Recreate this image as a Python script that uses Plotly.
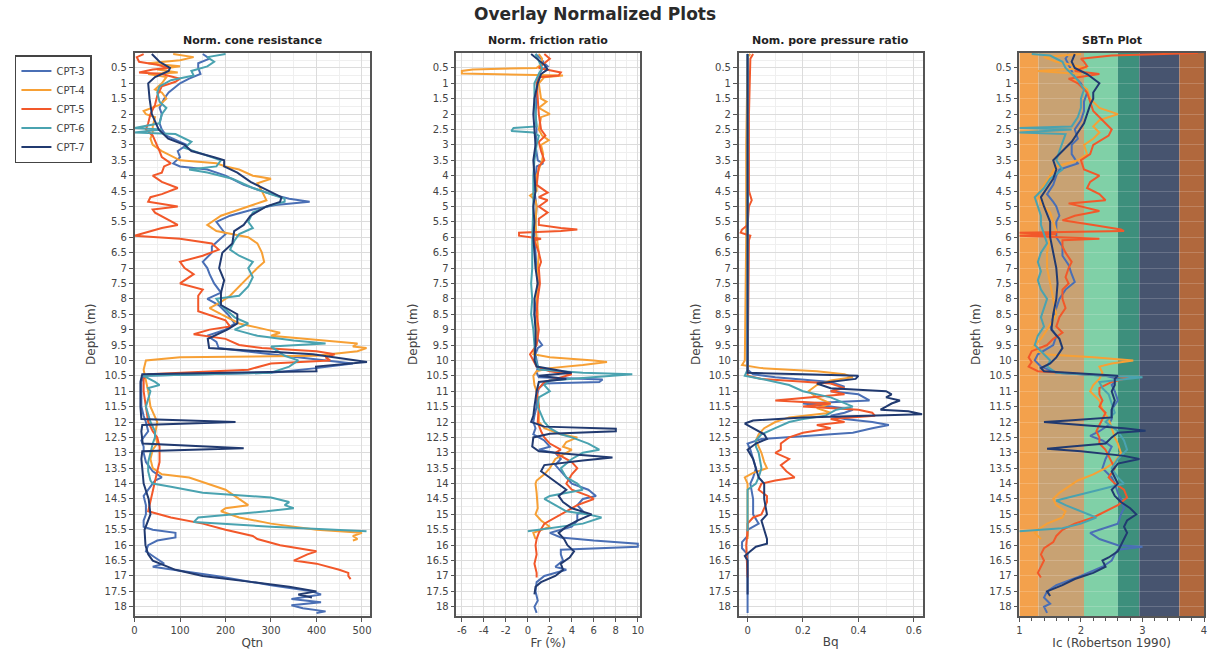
import plotly.graph_objects as go

# ---------------- DATA ----------------
SERIES = ["CPT-3", "CPT-4", "CPT-5", "CPT-6", "CPT-7"]
COLORS = ["#4a6fb5", "#f7a035", "#f2582a", "#4aa3b0", "#213a70"]

DEPTH_TICKS = [i * 0.5 for i in range(1, 37)]
DEPTH_TICK_TEXT = [("%g" % v) for v in DEPTH_TICKS]

QTN_TICKS = [0, 100, 200, 300, 400, 500]
FR_TICKS = [-6, -4, -2, 0, 2, 4, 6, 8, 10]
BQ_TICKS = [0, 0.2, 0.4, 0.6]
IC_TICKS = [1, 2, 3, 4]

# Panel 1: normalized cone resistance Qtn  (depth, value)
QTN_CPT3 = [(0.05,150),(0.2,165),(0.35,140),(0.5,140),(0.7,145),(0.85,120),(1.0,100),(1.3,75),(1.5,65),(1.8,55),(2.0,60),(2.3,55),(2.5,60),(2.7,70),(2.9,100),(3.0,115),(3.2,95),(3.4,100),(3.6,85),(3.7,100),(3.8,160),(4.0,200),(4.3,240),(4.6,300),(4.75,340),(4.85,385),(4.95,310),(5.1,260),(5.3,210),(5.5,180),(5.7,190),(5.9,200),(6.1,185),(6.3,170),(6.5,170),(6.8,150),(7.0,160),(7.2,165),(7.5,175),(7.8,190),(8.0,160),(8.2,185),(8.5,205),(8.8,220),(9.0,200),(9.2,160),(9.4,180),(9.6,185),(9.8,300),(10.0,420),(10.1,480),(10.25,400),(10.4,300),(10.5,20),(10.7,15),(11.0,15),(11.5,15),(11.8,20),(12.0,25),(12.3,30),(12.5,20),(12.6,15),(12.8,20),(13.0,20),(13.3,25),(13.6,40),(13.8,60),(13.9,45),(14.1,35),(14.4,20),(14.7,25),(15.0,25),(15.2,20),(15.4,20),(15.5,40),(15.6,90),(15.75,90),(15.85,50),(16.0,30),(16.2,25),(16.4,45),(16.6,65),(16.7,40),(17.0,180),(17.3,300),(17.5,390),(17.6,410),(17.75,345),(17.85,410),(17.95,345),(18.05,370),(18.15,420),(18.2,400)]
QTN_CPT4 = [(0.05,85),(0.15,130),(0.25,100),(0.35,30),(0.45,100),(0.55,50),(0.65,95),(0.7,30),(0.8,70),(1.0,60),(1.2,45),(1.3,60),(1.5,70),(1.7,55),(1.9,20),(2.0,25),(2.1,45),(2.4,40),(2.6,40),(2.8,35),(3.0,40),(3.2,60),(3.5,100),(3.6,180),(3.7,200),(3.8,230),(4.0,260),(4.1,300),(4.25,270),(4.5,280),(4.8,290),(5.0,250),(5.3,190),(5.6,160),(5.8,180),(6.0,250),(6.2,270),(6.5,280),(6.8,285),(7.0,270),(7.3,250),(7.6,230),(7.9,210),(8.1,190),(8.3,165),(8.5,190),(8.8,230),(9.0,290),(9.1,320),(9.2,300),(9.35,420),(9.45,490),(9.55,480),(9.6,510),(9.7,490),(9.85,400),(9.9,100),(10.0,25),(10.3,20),(10.6,25),(11.0,30),(11.5,35),(11.8,45),(12.0,50),(12.4,45),(12.7,50),(12.9,40),(13.2,35),(13.5,40),(13.7,60),(13.8,120),(13.9,140),(14.0,160),(14.2,200),(14.4,220),(14.5,230),(14.6,240),(14.7,250),(14.8,200),(14.9,190),(15.1,230),(15.3,300),(15.5,400),(15.6,500),(15.7,480),(15.8,490),(15.85,480)]
QTN_CPT5 = [(0.05,20),(0.15,5),(0.3,10),(0.4,50),(0.5,75),(0.55,40),(0.65,10),(0.7,60),(0.85,100),(0.95,90),(1.1,60),(1.4,50),(1.7,45),(2.0,35),(2.3,30),(2.5,25),(2.7,40),(3.0,50),(3.2,55),(3.4,60),(3.6,80),(3.7,65),(3.9,60),(4.0,40),(4.2,60),(4.4,95),(4.6,60),(4.7,35),(4.85,30),(5.0,95),(5.1,40),(5.2,45),(5.4,70),(5.6,95),(5.7,60),(5.85,20),(5.95,0),(6.05,100),(6.2,170),(6.4,185),(6.6,150),(6.8,100),(7.0,110),(7.2,130),(7.4,110),(7.5,100),(7.7,150),(7.9,140),(8.1,140),(8.4,140),(8.7,200),(8.9,210),(9.0,165),(9.15,130),(9.3,200),(9.5,230),(9.6,280),(9.7,400),(9.8,440),(9.9,420),(10.0,430),(10.1,300),(10.3,250),(10.45,30),(10.6,20),(11.0,20),(11.5,25),(12.0,30),(12.3,40),(12.5,50),(12.8,55),(13.0,55),(13.3,55),(13.6,50),(13.9,45),(14.2,40),(14.5,35),(14.9,30),(15.1,80),(15.3,150),(15.5,200),(15.7,260),(15.8,270),(16.0,320),(16.2,400),(16.3,380),(16.5,350),(16.6,400),(16.8,450),(16.9,470),(17.0,470),(17.1,475)]
QTN_CPT6 = [(0.05,200),(0.15,160),(0.3,175),(0.45,160),(0.6,125),(0.75,130),(0.9,80),(1.1,55),(1.3,50),(1.6,55),(1.8,70),(2.0,60),(2.3,55),(2.45,0),(2.5,60),(2.6,0),(2.65,90),(2.8,110),(2.9,125),(3.1,110),(3.3,150),(3.5,190),(3.7,180),(3.8,120),(3.9,160),(4.1,215),(4.4,260),(4.6,300),(4.75,330),(4.85,330),(5.0,290),(5.2,260),(5.5,250),(5.7,260),(5.9,230),(6.1,220),(6.4,210),(6.6,230),(6.8,260),(7.0,250),(7.3,260),(7.6,250),(7.9,230),(8.0,180),(8.2,190),(8.4,205),(8.6,220),(8.8,250),(9.0,220),(9.2,270),(9.35,350),(9.45,420),(9.55,300),(9.65,310),(9.85,330),(10.0,360),(10.2,340),(10.4,300),(10.5,20),(10.7,45),(10.8,55),(10.9,30),(11.0,35),(11.5,25),(12.0,35),(12.3,45),(12.5,45),(12.7,40),(13.0,35),(13.3,30),(13.6,30),(13.9,35),(14.0,40),(14.1,80),(14.3,150),(14.45,300),(14.6,340),(14.7,330),(14.8,350),(14.9,290),(15.1,140),(15.25,130),(15.4,300),(15.55,510)]
QTN_CPT7 = [(0.05,38),(0.3,55),(0.5,78),(0.6,75),(0.8,45),(1.0,30),(1.5,33),(2.0,38),(2.5,53),(2.8,74),(3.0,110),(3.2,125),(3.4,175),(3.5,197),(3.7,197),(3.9,226),(4.2,255),(4.5,298),(4.7,323),(4.85,320),(5.0,290),(5.3,255),(5.6,240),(5.8,219),(6.2,215),(6.5,193),(7.0,186),(7.4,197),(7.8,190),(8.2,190),(8.5,226),(8.8,226),(9.0,204),(9.3,161),(9.6,164),(9.8,392),(10.05,511),(10.2,399),(10.35,400),(10.45,17),(10.7,13),(11.0,13),(11.5,13),(11.9,15),(12.0,222),(12.1,17),(12.3,15),(12.7,18),(12.85,240),(12.95,17),(13.2,15),(13.5,17),(14.0,20),(14.5,31),(15.0,35),(15.5,22),(16.0,24),(16.3,30),(16.5,40),(16.8,90),(17.0,150),(17.2,260),(17.35,340),(17.5,400),(17.6,360),(17.7,390)]

# Panel 2: normalized friction ratio Fr (%)
FR_CPT3 = [(0.05,0.7),(0.2,1.2),(0.35,1.5),(0.45,1.8),(0.55,1.3),(0.7,1.0),(1.0,0.9),(1.5,0.8),(2.0,0.7),(2.5,0.8),(3.0,0.7),(3.5,0.9),(3.6,1.4),(3.7,0.8),(4.0,0.7),(4.5,0.6),(5.0,0.8),(5.5,0.7),(6.0,0.6),(6.5,0.7),(7.0,0.8),(7.5,0.9),(8.0,0.8),(8.5,0.6),(9.0,0.8),(9.3,0.9),(9.5,1.3),(9.6,0.9),(9.8,0.7),(10.0,0.8),(10.2,0.9),(10.4,0.8),(10.55,1.0),(10.62,6.8),(10.7,6.5),(10.75,1.5),(10.9,1.0),(11.2,0.8),(11.5,0.8),(11.8,0.6),(12.0,0.5),(12.2,0.7),(12.4,0.5),(12.5,1.0),(12.6,1.5),(12.8,2.0),(12.9,1.0),(13.0,2.5),(13.2,3.0),(13.4,2.5),(13.6,3.0),(13.8,3.5),(14.0,4.0),(14.2,5.5),(14.4,6.2),(14.5,5.0),(14.7,4.5),(14.9,5.0),(15.0,4.5),(15.2,4.5),(15.4,4.0),(15.5,3.0),(15.6,2.0),(15.75,3.0),(15.85,6.0),(15.95,10.0),(16.05,10.0),(16.15,3.0),(16.3,3.0),(16.5,3.2),(16.7,2.5),(16.8,3.5),(17.0,1.5),(17.2,0.8),(17.5,0.7),(17.8,0.9),(18.0,0.6),(18.2,0.8)]
FR_CPT4 = [(0.05,1.0),(0.2,1.3),(0.4,1.2),(0.5,0.8),(0.55,-5.0),(0.6,-6.0),(0.68,-6.0),(0.72,1.0),(0.75,3.2),(0.8,1.5),(1.0,1.0),(1.5,1.2),(1.6,1.7),(1.8,1.0),(2.0,2.0),(2.1,1.2),(2.5,1.0),(2.7,1.3),(2.85,1.9),(3.0,1.2),(3.3,1.4),(3.5,1.3),(4.0,0.8),(4.5,0.8),(4.65,0.2),(4.8,0.7),(5.0,0.8),(5.5,0.7),(6.0,0.8),(6.5,1.0),(7.0,0.9),(7.5,0.9),(8.0,0.8),(8.5,0.9),(9.0,0.8),(9.5,0.7),(9.8,0.5),(9.9,2.0),(10.0,6.0),(10.05,7.2),(10.15,5.0),(10.25,2.0),(10.35,0.8),(10.5,0.5),(10.8,0.6),(11.0,0.8),(11.5,1.0),(12.0,1.0),(12.2,1.5),(12.4,3.0),(12.5,4.5),(12.65,3.5),(12.8,3.2),(12.9,4.0),(13.0,3.5),(13.2,2.5),(13.5,2.0),(13.7,1.5),(13.9,0.8),(14.0,0.7),(14.3,0.8),(14.6,0.9),(14.8,0.9),(15.0,0.7),(15.2,1.2),(15.4,2.0),(15.6,0.5),(15.8,0.7)]
FR_CPT5 = [(0.05,1.5),(0.2,2.0),(0.35,1.5),(0.5,1.0),(0.65,3.0),(0.75,2.8),(0.8,1.0),(1.0,0.8),(1.5,0.9),(2.0,1.0),(2.5,1.2),(2.7,1.6),(2.9,1.0),(3.2,1.2),(3.5,1.5),(3.7,1.0),(4.0,0.9),(4.3,0.8),(4.55,1.8),(4.7,1.0),(4.8,1.8),(5.0,1.0),(5.2,1.8),(5.4,1.0),(5.6,1.0),(5.7,3.0),(5.75,4.5),(5.8,3.0),(5.85,-0.8),(5.95,-0.8),(6.05,1.2),(6.1,0.6),(6.5,1.0),(6.8,1.2),(7.0,1.0),(7.5,1.1),(8.0,0.9),(8.5,0.8),(9.0,1.0),(9.5,0.8),(9.8,0.2),(10.0,0.5),(10.2,0.8),(10.35,2.0),(10.45,4.0),(10.55,3.0),(10.7,1.5),(11.0,0.8),(11.5,1.0),(12.0,0.9),(12.3,1.2),(12.5,1.5),(12.7,2.0),(12.9,3.0),(13.0,2.5),(13.3,4.0),(13.5,4.5),(13.7,4.0),(14.0,3.5),(14.2,4.0),(14.4,5.5),(14.5,6.0),(14.7,4.5),(14.9,3.5),(15.1,2.5),(15.3,1.5),(15.6,1.0),(15.8,0.8),(16.0,0.7),(16.3,0.8),(16.6,0.6),(16.9,0.8),(17.05,0.8)]
FR_CPT6 = [(0.05,0.7),(0.3,1.0),(0.5,1.3),(0.7,1.0),(1.0,0.6),(1.5,0.6),(2.0,0.7),(2.4,0.8),(2.45,-1.3),(2.55,-1.5),(2.6,0.5),(2.7,1.0),(3.0,0.8),(3.5,0.6),(4.0,0.5),(5.0,0.5),(6.0,0.4),(7.0,0.4),(7.5,0.3),(8.0,0.4),(8.5,0.3),(9.0,0.5),(9.5,0.6),(10.0,0.7),(10.3,1.0),(10.4,5.0),(10.45,9.5),(10.55,6.0),(10.65,2.0),(10.8,1.5),(11.0,2.0),(11.2,1.0),(11.5,0.9),(12.0,1.5),(12.2,2.0),(12.4,3.0),(12.5,4.0),(12.7,5.5),(12.9,6.5),(13.0,5.0),(13.2,4.0),(13.5,3.0),(13.8,3.5),(14.0,4.5),(14.2,5.0),(14.4,2.0),(14.5,1.5),(14.7,2.5),(14.9,3.5),(15.0,5.5),(15.1,6.7),(15.3,5.0),(15.45,2.0),(15.55,0.0)]
FR_CPT7 = [(0.05,0.3),(0.2,0.8),(0.4,1.5),(0.55,1.8),(0.7,1.2),(1.0,0.9),(1.5,0.6),(2.0,0.5),(2.5,0.6),(3.0,0.7),(3.5,0.5),(4.0,0.6),(4.5,0.7),(5.0,0.5),(5.5,0.6),(6.0,0.5),(6.5,0.6),(7.0,0.7),(7.5,0.9),(8.0,0.6),(8.5,0.6),(9.0,0.7),(9.5,0.7),(10.0,0.6),(10.2,0.8),(10.3,2.5),(10.4,4.0),(10.5,1.0),(10.6,3.5),(10.7,1.0),(11.0,0.8),(11.5,0.6),(11.8,0.5),(12.0,0.3),(12.15,1.5),(12.22,8.0),(12.3,8.0),(12.38,2.0),(12.5,0.5),(12.8,0.4),(12.95,1.0),(13.05,4.0),(13.15,7.7),(13.25,5.0),(13.4,1.5),(13.6,1.2),(13.8,2.0),(14.0,2.8),(14.2,3.5),(14.4,2.8),(14.6,3.2),(14.8,4.0),(15.0,5.8),(15.2,4.5),(15.4,3.5),(15.6,2.8),(15.8,3.3),(16.0,3.6),(16.2,4.2),(16.4,3.8),(16.6,3.0),(16.8,3.2),(17.0,2.5),(17.2,1.2),(17.35,0.7),(17.6,0.6)]

# Panel 3: normalized pore pressure ratio Bq
BQ_CPT3 = [(0.05,0.0),(5.0,0.0),(10.3,0.0),(10.45,0.02),(10.55,0.1),(10.7,0.3),(10.85,0.35),(11.0,0.3),(11.1,0.4),(11.3,0.44),(11.4,0.2),(11.5,0.3),(11.6,0.38),(11.7,0.35),(11.8,0.3),(11.9,0.35),(12.0,0.45),(12.1,0.51),(12.2,0.45),(12.35,0.38),(12.45,0.2),(12.55,0.05),(12.7,0.0),(12.9,0.01),(13.2,0.02),(13.5,0.03),(13.8,0.02),(14.0,0.01),(14.5,0.02),(15.0,0.02),(15.3,0.04),(15.5,0.0),(15.7,0.0),(15.9,-0.02),(16.1,-0.02),(16.3,0.0),(16.5,0.0),(17.0,0.0),(17.5,0.0),(18.2,0.0)]
BQ_CPT4 = [(0.05,0.01),(0.15,0.0),(3.0,-0.005),(6.0,-0.005),(10.0,-0.01),(10.15,-0.02),(10.25,0.05),(10.35,0.25),(10.45,0.35),(10.55,0.38),(10.65,0.3),(10.8,0.25),(11.0,0.22),(11.2,0.25),(11.4,0.3),(11.55,0.25),(11.7,0.3),(11.85,0.15),(12.0,0.1),(12.2,0.06),(12.4,0.04),(12.6,0.03),(12.8,0.04),(13.0,0.05),(13.3,0.06),(13.5,0.07),(13.65,0.02),(13.8,-0.01),(14.0,0.0),(14.5,0.0),(15.0,0.0),(15.3,0.0),(15.5,0.0),(15.8,0.0)]
BQ_CPT5 = [(0.05,0.02),(0.2,0.01),(2.0,0.005),(4.5,0.005),(4.8,0.015),(5.0,0.005),(5.6,0.0),(5.75,-0.02),(5.85,-0.025),(5.95,0.01),(6.1,0.005),(10.0,0.0),(10.5,0.0),(10.6,0.05),(10.75,0.3),(10.9,0.35),(11.0,0.3),(11.1,0.35),(11.3,0.1),(11.4,0.3),(11.5,0.2),(11.6,0.4),(11.7,0.45),(11.8,0.46),(11.9,0.3),(12.0,0.35),(12.1,0.25),(12.2,0.3),(12.35,0.2),(12.5,0.15),(12.7,0.12),(12.9,0.12),(13.0,0.1),(13.2,0.15),(13.4,0.12),(13.6,0.14),(13.8,0.17),(13.9,0.1),(14.0,0.05),(14.2,0.04),(14.4,0.07),(14.6,0.07),(14.8,0.06),(15.0,0.05),(15.1,0.02),(15.3,0.0),(15.5,0.0),(16.0,-0.005),(17.05,0.0)]
BQ_CPT6 = [(0.05,0.0),(5.0,0.0),(10.3,0.0),(10.5,-0.01),(10.6,0.05),(10.8,0.15),(11.0,0.2),(11.2,0.3),(11.4,0.35),(11.5,0.38),(11.6,0.32),(11.8,0.28),(11.9,0.2),(12.0,0.15),(12.2,0.1),(12.4,0.05),(12.6,0.03),(12.8,0.03),(13.0,0.04),(13.5,0.05),(13.8,0.04),(14.0,0.03),(14.2,0.0),(14.5,0.0),(15.0,0.0),(15.3,0.0),(15.55,0.0)]
BQ_CPT7 = [(0.05,0.0),(5.0,0.0),(10.3,0.0),(10.4,0.0),(10.45,0.2),(10.5,0.4),(10.6,0.39),(10.75,0.25),(10.9,0.3),(11.0,0.5),(11.1,0.52),(11.2,0.5),(11.3,0.55),(11.4,0.52),(11.5,0.5),(11.6,0.48),(11.65,0.58),(11.75,0.63),(11.85,0.2),(11.95,0.02),(12.05,-0.01),(12.2,0.02),(12.4,0.06),(12.55,0.07),(12.7,0.03),(12.9,0.0),(13.2,0.02),(13.5,0.03),(13.8,0.04),(14.0,0.06),(14.5,0.06),(15.0,0.07),(15.2,0.05),(15.5,0.06),(15.8,0.07),(15.95,0.07),(16.05,0.03),(16.2,0.01),(16.35,-0.01),(16.5,0.0),(17.0,0.0),(17.6,0.0)]

# Panel 4: soil behaviour type index Ic
IC_CPT3 = [(0.05,1.8),(0.2,1.75),(0.4,1.8),(0.6,1.85),(0.8,1.9),(1.0,2.0),(1.3,2.1),(1.6,2.05),(1.9,2.05),(2.2,2.0),(2.5,1.9),(2.8,1.95),(3.0,1.85),(3.3,1.85),(3.6,1.95),(3.8,1.65),(4.0,1.6),(4.3,1.55),(4.6,1.45),(4.85,1.55),(5.0,1.6),(5.3,1.65),(5.5,1.6),(6.0,1.6),(6.3,1.7),(6.6,1.7),(6.9,1.8),(7.2,1.85),(7.45,1.9),(7.7,1.75),(8.0,1.65),(8.3,1.6),(8.6,1.55),(8.9,1.5),(9.2,1.6),(9.5,1.55),(9.8,1.3),(10.0,1.25),(10.2,1.35),(10.4,1.6),(10.5,2.4),(10.6,2.6),(10.8,2.5),(11.0,2.55),(11.3,2.6),(11.6,2.5),(11.9,2.5),(12.1,2.45),(12.3,2.3),(12.45,2.15),(12.6,2.35),(12.8,2.5),(13.0,2.45),(13.2,2.4),(13.5,2.35),(13.8,2.5),(14.0,2.55),(14.3,2.6),(14.5,2.65),(14.8,2.7),(15.0,2.65),(15.3,2.6),(15.5,2.3),(15.6,2.15),(15.8,2.3),(16.0,2.6),(16.05,3.0),(16.15,2.6),(16.3,2.55),(16.5,2.5),(16.7,2.35),(17.0,2.0),(17.3,1.6),(17.5,1.45),(17.7,1.4),(17.9,1.5),(18.0,1.4),(18.2,1.45)]
IC_CPT4 = [(0.05,2.0),(0.15,1.4),(0.3,1.6),(0.5,2.1),(0.6,1.3),(0.7,2.0),(0.9,1.9),(1.2,2.1),(1.5,2.15),(1.8,2.3),(2.0,2.6),(2.2,2.3),(2.4,2.2),(2.6,2.3),(2.8,2.2),(3.0,2.05),(3.3,2.1),(3.5,1.95),(3.7,1.6),(4.0,1.5),(4.3,1.4),(4.6,1.3),(4.9,1.35),(5.2,1.5),(5.5,1.55),(5.8,1.6),(6.0,1.5),(6.5,1.45),(7.0,1.45),(7.5,1.5),(8.0,1.55),(8.5,1.6),(9.0,1.45),(9.3,1.35),(9.6,1.2),(9.8,1.4),(9.9,2.2),(10.0,2.85),(10.1,2.5),(10.2,2.3),(10.4,2.35),(10.6,2.3),(10.8,2.2),(11.0,2.15),(11.3,2.3),(11.6,2.35),(11.9,2.45),(12.2,2.5),(12.5,2.55),(12.7,2.6),(13.0,2.65),(13.3,2.55),(13.5,2.4),(13.7,2.2),(13.9,1.95),(14.1,1.8),(14.3,1.65),(14.5,1.55),(14.7,1.6),(14.9,1.75),(15.1,1.7),(15.3,1.45),(15.5,1.3),(15.6,1.25),(15.8,1.35)]
IC_CPT5 = [(0.02,3.9),(0.05,3.3),(0.1,2.5),(0.2,2.0),(0.3,2.05),(0.45,2.1),(0.6,1.9),(0.7,2.3),(0.85,1.8),(1.0,1.95),(1.3,2.1),(1.6,2.15),(1.9,2.2),(2.2,2.35),(2.5,2.5),(2.7,2.45),(3.0,2.2),(3.3,2.15),(3.5,2.0),(3.8,2.05),(4.0,2.3),(4.2,2.15),(4.4,2.1),(4.6,2.3),(4.8,2.4),(4.9,1.8),(5.0,2.0),(5.15,2.3),(5.3,1.9),(5.45,1.7),(5.6,2.2),(5.75,2.65),(5.8,2.7),(5.85,1.0),(5.9,1.6),(5.95,1.0),(6.05,2.3),(6.1,1.7),(6.3,1.7),(6.5,1.75),(6.8,1.85),(7.0,1.8),(7.3,1.75),(7.5,1.8),(7.7,1.7),(8.0,1.7),(8.3,1.75),(8.6,1.65),(8.9,1.6),(9.1,1.7),(9.3,1.55),(9.5,1.45),(9.7,1.2),(9.9,1.15),(10.05,1.2),(10.2,1.15),(10.35,1.3),(10.45,2.0),(10.55,2.8),(10.7,2.5),(10.9,2.3),(11.1,2.3),(11.3,2.35),(11.5,2.3),(11.7,2.4),(11.9,2.35),(12.1,2.3),(12.3,2.25),(12.5,2.3),(12.7,2.3),(12.9,2.4),(13.1,2.45),(13.3,2.5),(13.5,2.55),(13.8,2.45),(14.0,2.55),(14.2,2.7),(14.45,2.75),(14.7,2.6),(14.9,2.4),(15.1,2.2),(15.3,1.9),(15.5,1.7),(15.7,1.6),(15.9,1.55),(16.1,1.4),(16.3,1.35),(16.5,1.4),(16.7,1.35),(16.9,1.3),(17.05,1.35)]
IC_CPT6 = [(0.05,1.2),(0.1,1.5),(0.3,1.7),(0.5,1.75),(0.7,1.85),(0.9,1.95),(1.2,2.05),(1.5,2.0),(1.8,2.0),(2.1,1.95),(2.4,1.85),(2.45,1.0),(2.5,1.85),(2.6,1.0),(2.65,1.75),(2.9,1.7),(3.2,1.65),(3.5,1.6),(3.8,1.7),(4.1,1.5),(4.4,1.4),(4.7,1.25),(5.0,1.3),(5.3,1.35),(5.6,1.35),(5.9,1.4),(6.2,1.45),(6.5,1.35),(6.8,1.3),(7.1,1.35),(7.4,1.3),(7.7,1.35),(8.0,1.45),(8.3,1.4),(8.6,1.35),(8.9,1.4),(9.2,1.3),(9.5,1.25),(9.8,1.4),(10.0,1.5),(10.2,1.45),(10.4,1.6),(10.5,2.4),(10.55,3.0),(10.7,2.3),(10.9,2.35),(11.1,2.45),(11.4,2.5),(11.7,2.55),(12.0,2.4),(12.3,2.6),(12.6,2.7),(12.9,2.75),(13.2,2.6),(13.5,2.5),(13.8,2.6),(14.0,2.7),(14.2,2.3),(14.4,1.9),(14.55,1.6),(14.7,1.75),(14.9,2.0),(15.1,2.25),(15.3,2.0),(15.45,1.7),(15.55,1.0)]
IC_CPT7 = [(0.05,1.9),(0.3,1.85),(0.5,1.9),(0.7,2.1),(1.0,2.3),(1.3,2.2),(1.5,2.2),(1.7,2.15),(2.0,2.1),(2.3,2.05),(2.6,1.95),(2.9,1.85),(3.2,1.7),(3.5,1.55),(3.8,1.6),(4.1,1.55),(4.4,1.45),(4.7,1.35),(5.0,1.4),(5.5,1.5),(6.0,1.5),(6.5,1.55),(7.0,1.6),(7.5,1.62),(8.0,1.6),(8.5,1.55),(9.0,1.52),(9.3,1.65),(9.6,1.7),(9.9,1.6),(10.1,1.5),(10.25,1.35),(10.35,1.4),(10.45,2.2),(10.5,2.6),(10.6,2.55),(10.8,2.55),(11.0,2.5),(11.3,2.55),(11.6,2.5),(11.85,2.5),(11.95,1.8),(12.0,1.4),(12.1,2.0),(12.2,2.7),(12.28,3.05),(12.35,2.6),(12.5,2.5),(12.7,2.4),(12.8,1.8),(12.87,1.45),(12.95,2.0),(13.1,2.7),(13.2,2.95),(13.35,2.6),(13.6,2.5),(13.8,2.55),(14.0,2.6),(14.2,2.5),(14.4,2.55),(14.6,2.65),(14.8,2.8),(15.0,2.9),(15.2,2.75),(15.4,2.7),(15.6,2.75),(15.8,2.7),(16.0,2.65),(16.2,2.6),(16.4,2.45),(16.5,2.35),(16.7,2.4),(16.9,2.2),(17.1,1.9),(17.3,1.7),(17.5,1.45),(17.65,1.5)]

# SBTn zone boundaries (Robertson 1990) and their fill colours
SBT_BOUNDS = [1.0, 1.31, 2.05, 2.6, 2.95, 3.6, 4.0]
SBT_COLORS = ["#f3a14c", "#c8a273", "#80d0a7", "#3d8f7c", "#47546f", "#b1683d"]

PANEL_TITLES = ["Norm. cone resistance", "Norm. friction ratio", "Nom. pore pressure ratio", "SBTn Plot"]
X_TITLES = ["Qtn", "Fr (%)", "Bq", "Ic (Robertson 1990)"]
X_TICKS = [QTN_TICKS, FR_TICKS, BQ_TICKS, IC_TICKS]

PANELS = [
    [QTN_CPT3, QTN_CPT4, QTN_CPT5, QTN_CPT6, QTN_CPT7],
    [FR_CPT3, FR_CPT4, FR_CPT5, FR_CPT6, FR_CPT7],
    [BQ_CPT3, BQ_CPT4, BQ_CPT5, BQ_CPT6, BQ_CPT7],
    [IC_CPT3, IC_CPT4, IC_CPT5, IC_CPT6, IC_CPT7],
]

# ---------------- LAYOUT ----------------
W, H = 1210, 654
X_DOMAINS = [(132.3, 369.3), (456, 640.7), (740, 925), (1022.3, 1208)]
Y_TOP, Y_BOT = 52.5, 616
X_RANGES = [[0, 518], [-6.5, 10.2], [-0.032, 0.632], [1, 4]]
X_MINOR = [50, 1, 0.1, 0.2]


def px(x):
    return x / W


def py(y):
    return 1 - y / H


FONT = "DejaVu Sans"
fig = go.Figure()

for p, panel in enumerate(PANELS):
    for s, data in enumerate(panel):
        d = [t[0] for t in data]
        v = [t[1] for t in data]
        fig.add_trace(go.Scatter(
            x=v, y=d, mode="lines", name=SERIES[s],
            line=dict(color=COLORS[s], width=2),
            showlegend=(p == 0), legendgroup=SERIES[s],
            xaxis="x" if p == 0 else "x%d" % (p + 1),
            yaxis="y" if p == 0 else "y%d" % (p + 1),
        ))

axis_common = dict(showline=True, linecolor="#555555", linewidth=1.5, mirror=True,
                   ticks="outside", ticklen=4, tickcolor="#555555",
                   tickfont=dict(family=FONT, size=10, color="#444444"),
                   gridcolor="#dcdcdc", gridwidth=1, zeroline=False)

layout = dict(
    width=W, height=H, margin=dict(l=0, r=0, t=0, b=0),
    plot_bgcolor="white", paper_bgcolor="white",
    font=dict(family=FONT, size=10, color="#333333"),
    showlegend=True,
    legend=dict(x=px(12), y=py(55), xanchor="left", yanchor="top",
                bordercolor="#444444", borderwidth=1.5, bgcolor="white",
                font=dict(family=FONT, size=10, color="#444444"),
                itemwidth=30, tracegroupgap=0),
)

for p in range(4):
    sx = "" if p == 0 else str(p + 1)
    x0, x1 = X_DOMAINS[p]
    layout["xaxis" + sx] = dict(
        axis_common, domain=[px(x0), px(x1)], range=X_RANGES[p],
        tickvals=X_TICKS[p], ticktext=[("%g" % t) for t in X_TICKS[p]],
        anchor="y" + sx,
        minor=dict(dtick=X_MINOR[p], tick0=0, showgrid=(p != 3), gridcolor="#efefef",
                   ticks="outside" if p == 3 else "", ticklen=3, tickcolor="#555555"),
        title=dict(text=X_TITLES[p], standoff=3, font=dict(family=FONT, size=12, color="#444444")),
        showgrid=(p != 3),
    )
    layout["yaxis" + sx] = dict(
        axis_common, domain=[py(Y_BOT), py(Y_TOP)], range=[18.3, 0],
        tickvals=DEPTH_TICKS, ticktext=DEPTH_TICK_TEXT, anchor="x" + sx,
        minor=dict(dtick=0.25, tick0=0, showgrid=True, gridcolor="#efefef"),
        title=dict(text="Depth (m)", standoff=6, font=dict(family=FONT, size=12, color="#444444")),
        showgrid=True,
    )

fig.update_layout(**layout)
# panel 4 gridlines faintly visible over the zone bands
fig.update_layout(yaxis4=dict(gridcolor="rgba(255,255,255,0.18)",
                              minor=dict(showgrid=False)))

# SBTn zone bands
for i in range(len(SBT_COLORS)):
    fig.add_shape(type="rect", xref="x4", yref="y4 domain",
                  x0=SBT_BOUNDS[i], x1=SBT_BOUNDS[i + 1], y0=0, y1=1,
                  fillcolor=SBT_COLORS[i], line=dict(width=0), layer="below")

# titles
fig.add_annotation(text="<b>Overlay Normalized Plots</b>", xref="paper", yref="paper",
                   x=px(595), y=py(14), showarrow=False, xanchor="center", yanchor="middle",
                   font=dict(family=FONT, size=17, color="#2a2a2a"))
for p in range(4):
    x0, x1 = X_DOMAINS[p]
    fig.add_annotation(text="<b>%s</b>" % PANEL_TITLES[p], xref="paper", yref="paper",
                       x=px((x0 + x1) / 2), y=py(40), showarrow=False,
                       xanchor="center", yanchor="middle",
                       font=dict(family=FONT, size=11, color="#222222"))

# remove the default page margin so the figure fills the window exactly
fig.write_html("out.html",
               config={"displayModeBar": False},
               post_script="document.body.style.margin='0px';"
                           "document.documentElement.style.overflow='hidden';")
